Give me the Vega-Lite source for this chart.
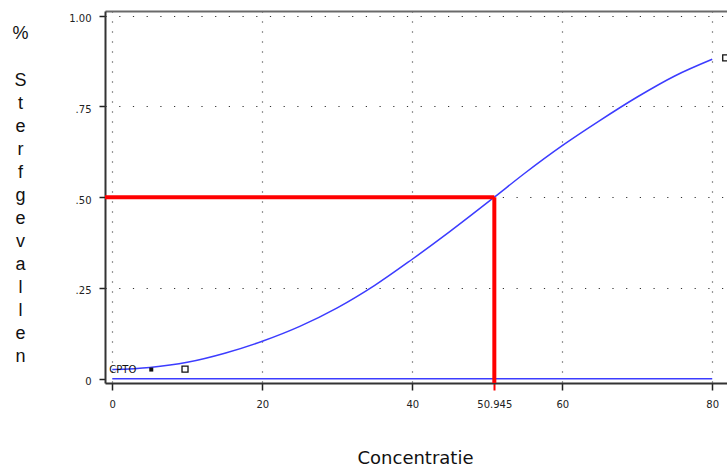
{
  "$schema": "https://vega.github.io/schema/vega-lite/v6.json",
  "width": 622,
  "height": 372,
  "autosize": {"type": "none"},
  "padding": {"left": 105, "top": 11, "right": 0, "bottom": 85},
  "background": "white",
  "config": {
    "view": {"stroke": null},
    "axis": {"labelFont": "DejaVu Sans", "labelFontSize": 10, "labelColor": "#222", "domainColor": "#333", "domainWidth": 2, "tickColor": "#222", "tickWidth": 1.5}
  },
  "resolve": {"axis": {"x": "independent"}},
  "datasets": {
    "curve": [
      {"conc": 0, "p": 0.025}, {"conc": 5, "p": 0.031}, {"conc": 10, "p": 0.045}, {"conc": 15, "p": 0.07},
      {"conc": 20, "p": 0.103}, {"conc": 25, "p": 0.144}, {"conc": 30, "p": 0.195}, {"conc": 35, "p": 0.257},
      {"conc": 40, "p": 0.329}, {"conc": 45, "p": 0.405}, {"conc": 50.945, "p": 0.5}, {"conc": 55, "p": 0.566},
      {"conc": 60, "p": 0.642}, {"conc": 65, "p": 0.711}, {"conc": 70, "p": 0.776}, {"conc": 75, "p": 0.834},
      {"conc": 80, "p": 0.88}
    ],
    "base": [{"conc": 0, "p": 0}, {"conc": 80, "p": 0}],
    "ld50": [{"conc": 50.945, "p": 0.5}],
    "open": [{"conc": 9.7, "p": 0.026}, {"conc": 81.8, "p": 0.884}],
    "filled": [{"conc": 5.2, "p": 0.025}],
    "notes": [{"conc": 0, "p": 0.025, "label": "CPTO"}]
  },
  "layer": [
    {
      "data": {"name": "base"},
      "mark": {"type": "line", "color": "#3c3cff", "strokeWidth": 1.5},
      "encoding": {
        "x": {
          "field": "conc", "type": "quantitative",
          "scale": {"domain": [-0.97, 81.97], "nice": false, "zero": false},
          "axis": {
            "values": [0, 20, 40, 50.945, 60, 80],
            "labelExpr": "datum.value == 50.945 ? '50.945' : format(datum.value, 'd')",
            "title": "Concentratie",
            "titleFont": "DejaVu Sans", "titleFontSize": 18, "titleFontWeight": "normal", "titleColor": "#111",
            "titleX": 310, "titleY": 80, "titleAlign": "center", "titleBaseline": "alphabetic",
            "grid": true, "gridDash": [1, 9], "gridColor": "#333", "gridWidth": 1.2,
            "gridOpacity": {"condition": {"test": "datum.value == 50.945", "value": 0}, "value": 1},
            "tickSize": 7,
            "tickColor": {"condition": {"test": "datum.value == 50.945", "value": "#ff0000"}, "value": "#222"},
            "tickWidth": {"condition": {"test": "datum.value == 50.945", "value": 2}, "value": 1.5},
            "labelPadding": 9
          }
        },
        "y": {
          "field": "p", "type": "quantitative",
          "scale": {"domain": [-0.012, 1.013], "nice": false, "zero": false},
          "axis": {
            "values": [0, 0.25, 0.5, 0.75, 1],
            "labelExpr": "datum.value == 0 ? '0' : datum.value == 1 ? '1.00' : replace(format(datum.value, '.2f'), '0.', '.')",
            "title": ["S", "t", "e", "r", "f", "g", "e", "v", "a", "l", "l", "e", "n"],
            "titleAngle": 0, "titleAlign": "center", "titleBaseline": "top",
            "titleX": -85, "titleY": 60, "titleLineHeight": 23,
            "titleFont": "Liberation Sans", "titleFontSize": 18, "titleFontWeight": "normal", "titleColor": "#111",
            "grid": true, "gridDash": [1.2, 12.5], "gridColor": "#333", "gridWidth": 1.2,
            "gridOpacity": {"condition": {"test": "datum.value == 0", "value": 0}, "value": 1},
            "tickSize": 6, "labelPadding": 8, "labelOffset": 3
          }
        }
      }
    },
    {
      "data": {"name": "curve"},
      "mark": {"type": "line", "color": "#3c3cff", "strokeWidth": 1.5, "interpolate": "monotone"},
      "encoding": {
        "x": {"field": "conc", "type": "quantitative",
              "axis": {"orient": "top", "ticks": false, "labels": false, "grid": false, "domainColor": "#6a6a6a", "domainWidth": 2,
                       "title": "%", "titleAngle": 0, "titleAlign": "center", "titleBaseline": "top", "titleX": -85, "titleY": 13,
                       "titleFont": "Liberation Sans", "titleFontSize": 18, "titleFontWeight": "normal", "titleColor": "#111"}},
        "y": {"field": "p", "type": "quantitative"}
      }
    },
    {
      "data": {"name": "ld50"},
      "mark": {"type": "rule", "color": "#ff0000", "strokeWidth": 4},
      "encoding": {
        "x": {"field": "conc", "type": "quantitative", "axis": null},
        "x2": {"datum": -0.97},
        "y": {"field": "p", "type": "quantitative"}
      }
    },
    {
      "data": {"name": "ld50"},
      "mark": {"type": "rule", "color": "#ff0000", "strokeWidth": 4},
      "encoding": {
        "x": {"field": "conc", "type": "quantitative", "axis": null},
        "y": {"field": "p", "type": "quantitative"},
        "y2": {"datum": -0.012}
      }
    },
    {
      "data": {"name": "open"},
      "mark": {"type": "point", "shape": "square", "filled": false, "stroke": "#111", "strokeWidth": 1.3, "size": 36, "opacity": 1},
      "encoding": {"x": {"field": "conc", "type": "quantitative", "axis": null}, "y": {"field": "p", "type": "quantitative"}}
    },
    {
      "data": {"name": "filled"},
      "mark": {"type": "point", "shape": "square", "filled": true, "color": "#111", "size": 16, "opacity": 1},
      "encoding": {"x": {"field": "conc", "type": "quantitative", "axis": null}, "y": {"field": "p", "type": "quantitative"}}
    },
    {
      "data": {"name": "notes"},
      "mark": {"type": "text", "align": "left", "baseline": "middle", "dx": -3, "font": "DejaVu Sans", "fontSize": 10, "color": "#111"},
      "encoding": {"x": {"field": "conc", "type": "quantitative", "axis": null}, "y": {"field": "p", "type": "quantitative"}, "text": {"field": "label"}}
    }
  ]
}
